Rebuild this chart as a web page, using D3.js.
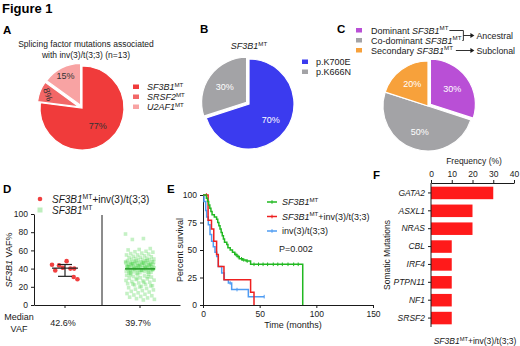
<!DOCTYPE html>
<html><head><meta charset="utf-8">
<script src="https://cdn.jsdelivr.net/npm/d3@7"></script>
<style>body{margin:0;background:#fff}svg{display:block;font-family:"Liberation Sans",Arial,sans-serif}</style>
</head><body><svg id="c" width="520" height="346"></svg>
<script>
// ---------------- data ----------------
const pieA_labels = ["SF3B1", "SRSF2", "U2AF1"];
const pieA_values = [77, 8, 15];
const pieB_labels = ["p.K700E", "p.K666N"];
const pieB_values = [70, 30];
const pieC_labels = ["Dominant", "Co-dominant", "Secondary"];
const pieC_values = [30, 50, 20];
const pieC_groups = ["Ancestral", "Subclonal"];

const vafTicks = [0, 20, 40, 60, 80, 100];
const vafRed = [44.2, 40, 40, 48.2, 41, 43.5, 38, 28.3, 30.8];
const vafRedStats = [31.5, 40.5, 44.5];
const vafGreen = [78, 73, 72,
  62, 61, 60.5, 59, 58.5, 58, 57, 56.5, 56, 55, 55, 54, 53.5, 53, 52.5, 52, 51.5, 51, 50.5, 50, 50,
  49.6, 49.2, 48.8, 48.4, 48, 47.7, 47.3, 47, 46.8, 46.5, 46.2, 46, 45.7, 45.4, 45.1, 44.8, 44.6, 44.3, 44, 43.8,
  43.5, 43.2, 43, 42.7, 42.4, 42.2, 42, 41.8, 41.5, 41.2, 41, 40.8, 40.5, 40.3, 40, 39.8, 39.5, 39.2, 39, 38.8,
  38.5, 38.2, 38, 37.6, 37.2, 36.8, 36.4, 36, 35.6, 35.2,
  49, 48, 47, 46, 45, 44, 43, 42, 41, 40, 39, 38, 37, 36, 35,
  47.5, 46.5, 45.5, 44.5, 43.5, 42.5, 41.5, 40.5, 39.5, 38.5,
  34.5, 34, 33.2, 32.6, 32, 31.3, 30.7, 30, 29.4, 28.8, 28, 27.3, 26.5, 25.8, 25, 24.2, 23.5, 22.7, 22, 21.2, 20.5,
  33, 31, 29, 27, 25, 23, 21,
  19.8, 19, 18.2, 17.4, 16.6, 15.8, 15, 14.2, 13.4, 12.6, 11.8, 11, 10.2, 9.4, 8.6, 7.8, 7, 6.2, 5.5];
const vafGreenMedian = 39.7;
const medianText = ["42.6%", "39.7%"];

const kmTicksY = [0, 25, 50, 75, 100];
const kmTicksX = [0, 50, 100, 150];
const kmGreen = [[0,100],[3,97],[4,94],[5,91],[6,88],[7,85],[8,82],[10,80],[12,78],[13,75],[14,72],[15,69],[16,66],[17,63],[18,60],[19,57],[21,55],[22,52],[24,50],[26,48],[28,46],[30,44],[32,42],[35,41],[38,40],[42,37],[88,0]];
const kmRed = [[0,100],[4.5,77],[7.5,69],[9.5,58],[12,46],[13.5,35],[18.5,23],[42,11.5],[45,0]];
const kmBlue = [[0,100],[0.9,94],[2.4,86],[3.2,80],[4.7,73],[6.2,64],[7.6,58],[9.1,53],[10.6,48],[12.1,44],[13.5,35],[16.5,29],[18.8,23],[22.4,20],[25.3,14],[40,7.6],[54,7.6]];
const censorGreen = [29, 31, 34, 36, 39, 45, 49, 53, 57, 62, 66, 70, 75, 80, 84];
const censorBlue = [12, 24, 30, 54];
const censorRed = [3];

const genes = ["GATA2", "ASXL1", "NRAS", "CBL", "IRF4", "PTPN11", "NF1", "SRSF2"];
const geneFreq = [30, 20, 20, 10, 10, 10, 10, 10];
const freqTicks = [0, 10, 20, 30, 40];

// ---------------- helpers ----------------
const svg = d3.select("#c");
const INK = "#1a1a1a";
function rich(g, x, y, parts, o = {}) {
  const size = o.size || 9;
  const t = g.append("text").attr("x", x).attr("y", y).attr("font-size", size).attr("fill", o.fill || INK);
  if (o.anchor) t.attr("text-anchor", o.anchor);
  if (o.transform) t.attr("transform", o.transform);
  let shift = 0;
  parts.forEach(p => {
    const ts = t.append("tspan").text(p.t);
    if (p.i) ts.attr("font-style", "italic");
    if (p.sup) { ts.attr("font-size", size * 0.68).attr("dy", -3.2); shift = 3.2; }
    else if (shift) { ts.attr("dy", shift); shift = 0; }
  });
  return t;
}
function styleAxis(g, size = 8.5) {
  g.attr("font-family", null).attr("font-size", size);
  g.selectAll("path,line").attr("stroke", INK);
  g.selectAll("text").attr("fill", INK);
}
const MT = [{t: "SF3B1", i: true}, {t: "MT", sup: true}];

// ---------------- titles ----------------
svg.append("text").attr("x", 2).attr("y", 13).attr("font-size", 13).attr("font-weight", "bold").attr("fill", "#000").text("Figure 1");
[["A", 3, 34], ["B", 200, 33], ["C", 337, 33], ["D", 3, 193], ["E", 167, 193], ["F", 373, 179]].forEach(([l, x, y]) =>
  svg.append("text").attr("x", x).attr("y", y).attr("font-size", 11.5).attr("font-weight", "bold").attr("fill", "#000").text(l));

// ---------------- pie helper ----------------
function drawPie(cx, cy, r, values, colors, explodeIdx, labelFn, labelColor) {
  const g = svg.append("g").attr("transform", `translate(${cx},${cy})`);
  const arcs = d3.pie().sort(null).value(d => d)(values);
  const arc = d3.arc().innerRadius(0).outerRadius(r);
  arcs.forEach((a, i) => {
    const mid = (a.startAngle + a.endAngle) / 2;
    const ex = explodeIdx.includes(i) ? 3 : 0;
    const dx = Math.sin(mid) * ex, dy = -Math.cos(mid) * ex;
    const sg = g.append("g").attr("transform", `translate(${dx},${dy})`);
    sg.append("path").attr("d", arc(a)).attr("fill", colors[i]).attr("stroke", "#fff").attr("stroke-width", 1.2);
    const lf = labelFn(a, i);
    const lx = Math.sin(mid) * r * lf.k, ly = -Math.cos(mid) * r * lf.k;
    sg.append("text").attr("x", lx).attr("y", ly).attr("dy", "0.35em").attr("text-anchor", "middle")
      .attr("font-size", 9).attr("fill", labelColor)
      .attr("transform", lf.rot ? `rotate(${lf.rot},${lx},${ly})` : null)
      .text(values[i] + "%");
  });
}

// ---------------- A ----------------
rich(svg, 86, 47, [{t: "Splicing factor mutations associated"}], {anchor: "middle", size: 8.5});
rich(svg, 86, 58, [{t: "with inv(3)/t(3;3) (n=13)"}], {anchor: "middle", size: 8.5});
const colA = ["#f03b3b", "#f26767", "#f8a3a3"];
drawPie(82, 108, 42, pieA_values, colA, [1, 2], (a, i) => i === 0 ? {k: 0.57} : (pieA_values[i] < 10 ? {k: 0.8, rot: 72} : {k: 0.8}), "#333");
pieA_labels.forEach((l, i) => {
  svg.append("rect").attr("x", 133).attr("y", 84.5 + i * 10).attr("width", 6).attr("height", 4.5).attr("fill", colA[i]);
  rich(svg, 147, 90 + i * 10, [{t: l, i: true}, {t: "MT", sup: true}], {size: 9});
});

// ---------------- B ----------------
rich(svg, 249, 49, MT, {anchor: "middle", size: 9});
const colB = ["#3b3bef", "#a3a3a6"];
drawPie(249, 104, 45, pieB_values, colB, [1], () => ({k: 0.6}), "#fff");
pieB_labels.forEach((l, i) => {
  svg.append("rect").attr("x", 302).attr("y", 59.5 + i * 10).attr("width", 6).attr("height", 4.5).attr("fill", colB[i]);
  rich(svg, 316, 65 + i * 10, [{t: l}], {size: 9});
});

// ---------------- C ----------------
const colC = ["#b94fd6", "#a3a3a6", "#f7a13b"];
drawPie(428, 106, 45, pieC_values, colC, [0], () => ({k: 0.6}), "#fff");
const legC = svg.append("g");
const rowC = 10, baseC = 33.5;
pieC_labels.forEach((l, i) => {
  legC.append("rect").attr("x", 356).attr("y", baseC - 5.5 + i * rowC).attr("width", 6).attr("height", 4.5).attr("fill", colC[i]);
});
const tC = pieC_labels.map((l, i) => rich(legC, 371, baseC + i * rowC, [{t: l + " "}, ...MT], {size: 9}));
const ends = tC.map(t => 371 + t.node().getComputedTextLength() + 1);
const tG = pieC_groups.map(l => rich(legC, 0, 0, [{t: l}], {size: 8.8}));
const gw = Math.max(...tG.map(t => t.node().getComputedTextLength()));
const tx = Math.min(Math.max(ends[0], ends[1]) + 14, 517 - gw);
const bx = tx - 13;
const yA = baseC + rowC / 2 - 3, yS = baseC + 2 * rowC - 3;
legC.append("path").attr("d", `M${ends[0]},${baseC - 3}H${bx}V${baseC - 3 + rowC}H${ends[1]}`).attr("fill", "none").attr("stroke", INK).attr("stroke-width", 0.9);
legC.append("path").attr("d", `M${bx},${yA}H${bx + 8}`).attr("stroke", INK).attr("stroke-width", 0.9);
legC.append("path").attr("d", `M${bx + 7},${yA - 2.5}L${bx + 11},${yA}L${bx + 7},${yA + 2.5}Z`).attr("fill", INK);
legC.append("path").attr("d", `M${ends[2] + 2},${yS}H${bx + 8}`).attr("stroke", INK).attr("stroke-width", 0.9);
legC.append("path").attr("d", `M${bx + 7},${yS - 2.5}L${bx + 11},${yS}L${bx + 7},${yS + 2.5}Z`).attr("fill", INK);
tG[0].attr("x", tx).attr("y", yA + 3.2);
tG[1].attr("x", tx).attr("y", yS + 3.2);

// ---------------- D ----------------
const yD = d3.scaleLinear().domain([0, 100]).range([305, 214]);
const xD = d3.scalePoint().domain([0, 1]).range([65, 140]);
const gD = svg.append("g");
gD.append("g").attr("transform", "translate(34,0)").call(d3.axisLeft(yD).tickValues(vafTicks).tickSize(3).tickSizeOuter(0)).call(g => styleAxis(g));
gD.append("g").attr("transform", "translate(0,305)").call(d3.axisBottom(d3.scaleLinear().domain([0, 1]).range([34, 180])).tickValues([]).tickSizeOuter(0)).call(g => styleAxis(g));
[0, 1].forEach(k => gD.append("line").attr("x1", xD(k)).attr("x2", xD(k)).attr("y1", 305).attr("y2", 308).attr("stroke", INK));
gD.append("line").attr("x1", 102).attr("x2", 102).attr("y1", 215).attr("y2", 305).attr("stroke", INK).attr("stroke-width", 1);
// green cloud
const gold = 0.6180339887;
gD.append("g").selectAll("rect").data(vafGreen).join("rect")
  .attr("x", (d, i) => xD(1) + (((i * gold) % 1) - 0.5) * 29 - 1.8)
  .attr("y", d => yD(d) - 1.8).attr("width", 3.6).attr("height", 3.6)
  .attr("fill", "#3fcf3f").attr("fill-opacity", 0.3);
gD.append("line").attr("x1", xD(1) - 15).attr("x2", xD(1) + 15).attr("y1", yD(vafGreenMedian)).attr("y2", yD(vafGreenMedian)).attr("stroke", "#2a9a2a").attr("stroke-width", 1.6);
// red points
gD.append("g").selectAll("circle").data(vafRed).join("circle")
  .attr("cx", (d, i) => xD(0) + (((i * gold * 3) % 1) - 0.5) * 26)
  .attr("cy", d => yD(d)).attr("r", 2.3).attr("fill", "#f04040");
const [lo, md, hi] = vafRedStats;
gD.append("line").attr("x1", xD(0)).attr("x2", xD(0)).attr("y1", yD(lo)).attr("y2", yD(hi)).attr("stroke", "#222").attr("stroke-width", 1.2);
gD.append("line").attr("x1", xD(0) - 7).attr("x2", xD(0) + 7).attr("y1", yD(lo)).attr("y2", yD(lo)).attr("stroke", "#222").attr("stroke-width", 1.2);
gD.append("line").attr("x1", xD(0) - 7).attr("x2", xD(0) + 7).attr("y1", yD(hi)).attr("y2", yD(hi)).attr("stroke", "#222").attr("stroke-width", 1.2);
gD.append("line").attr("x1", xD(0) - 13).attr("x2", xD(0) + 13).attr("y1", yD(md)).attr("y2", yD(md)).attr("stroke", "#222").attr("stroke-width", 1.2);
// legend D
gD.append("circle").attr("cx", 40).attr("cy", 199).attr("r", 2.3).attr("fill", "#f04040");
rich(gD, 52, 202.5, [...MT, {t: "+inv(3)/t(3;3)"}], {size: 10});
gD.append("rect").attr("x", 37.5).attr("y", 207.5).attr("width", 5).attr("height", 5).attr("fill", "#bdeebd");
rich(gD, 52, 213.5, MT, {size: 10});
rich(gD, 12, 260, [{t: "SF3B1", i: true}, {t: " VAF%"}], {size: 9, anchor: "middle", transform: "rotate(-90,12,260)"});
rich(gD, 19, 320, [{t: "Median"}], {size: 9, anchor: "middle"});
rich(gD, 19, 332, [{t: "VAF"}], {size: 9, anchor: "middle"});
medianText.forEach((m, i) => rich(gD, xD(i) - 2, 326, [{t: m}], {size: 9, anchor: "middle"}));

// ---------------- E ----------------
const xE = d3.scaleLinear().domain([0, 150]).range([203, 373]);
const yE = d3.scaleLinear().domain([0, 100]).range([305, 195]);
const gE = svg.append("g");
gE.append("g").attr("transform", "translate(203,0)").call(d3.axisLeft(yE).tickValues(kmTicksY).tickSize(3).tickSizeOuter(0)).call(g => styleAxis(g));
gE.append("g").attr("transform", "translate(0,305)").call(d3.axisBottom(xE).tickValues(kmTicksX).tickSize(3).tickSizeOuter(0)).call(g => styleAxis(g));
const line = d3.line().x(d => xE(d[0])).y(d => yE(d[1])).curve(d3.curveStepAfter);
function stepVal(curve, t) { let v = curve[0][1]; curve.forEach(p => { if (p[0] <= t) v = p[1]; }); return v; }
[[kmBlue, "#4f9cf2", censorBlue], [kmRed, "#ee2020", censorRed], [kmGreen, "#21b821", censorGreen]].forEach(([c, col, cens]) => {
  gE.append("path").attr("d", line(c)).attr("fill", "none").attr("stroke", col).attr("stroke-width", 1.5);
  gE.append("g").selectAll("line").data(cens).join("line")
    .attr("x1", d => xE(d)).attr("x2", d => xE(d))
    .attr("y1", d => yE(stepVal(c, d)) - 1.8).attr("y2", d => yE(stepVal(c, d)) + 1.8)
    .attr("stroke", col).attr("stroke-width", 1);
});
const legE = [[MT, "#21b821"], [[...MT, {t: "+inv(3)/t(3;3)"}], "#ee2020"], [[{t: "inv(3)/t(3;3)"}], "#4f9cf2"]];
legE.forEach(([parts, col], i) => {
  const y = 202 + i * 14.5;
  gE.append("line").attr("x1", 267).attr("x2", 277).attr("y1", y).attr("y2", y).attr("stroke", col).attr("stroke-width", 1.5);
  gE.append("line").attr("x1", 272).attr("x2", 272).attr("y1", y - 1.8).attr("y2", y + 1.8).attr("stroke", col).attr("stroke-width", 1);
  rich(gE, 282, y + 3, parts, {size: 9});
});
rich(gE, 279, 252, [{t: "P=0.002"}], {size: 9});
rich(gE, 183, 250, [{t: "Percent survival"}], {size: 9, anchor: "middle", transform: "rotate(-90,183,250)"});
rich(gE, 293, 328, [{t: "Time (months)"}], {size: 9, anchor: "middle"});

// ---------------- F ----------------
const xF = d3.scaleLinear().domain([0, 40]).range([431, 514]);
const yF = d3.scaleBand().domain(genes).range([184, 327]).paddingInner(0.3).paddingOuter(0.15);
const gF = svg.append("g");
gF.selectAll("rect").data(genes).join("rect")
  .attr("x", xF(0)).attr("y", d => yF(d)).attr("height", yF.bandwidth())
  .attr("width", (d, i) => xF(geneFreq[i]) - xF(0)).attr("fill", "#ff1a1a");
gF.append("g").attr("transform", "translate(0,183)").call(d3.axisTop(xF).tickValues(freqTicks).tickSize(3).tickSizeOuter(0)).call(g => styleAxis(g));
gF.append("g").attr("transform", "translate(431,0)").call(d3.axisLeft(yF).tickSize(3).tickSizeOuter(0))
  .call(g => { styleAxis(g); g.selectAll("text").attr("font-style", "italic"); g.select(".domain").attr("d", "M0,183V327"); });
rich(gF, 474, 164, [{t: "Frequency (%)"}], {size: 8.5, anchor: "middle"});
rich(gF, 390, 255, [{t: "Somatic Mutations"}], {size: 8.5, anchor: "middle", transform: "rotate(-90,390,255)"});
rich(gF, 475, 344, [...MT, {t: "+inv(3)/t(3;3)"}], {size: 8.5, anchor: "middle"});
</script></body></html>
